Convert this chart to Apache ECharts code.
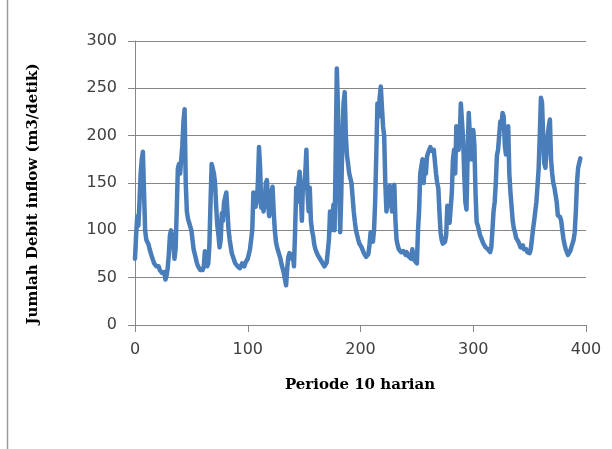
<!DOCTYPE html>
<html>
<head>
<meta charset="utf-8">
<script src="https://cdn.jsdelivr.net/npm/echarts@6/dist/echarts.min.js"></script>
<style>
html,body{margin:0;padding:0;background:#fff;}
#chart{width:612px;height:449px;}
</style>
</head>
<body>
<div id="chart"></div>
<script>
// Inflow values per 10-day period, grouped by year (36 periods each)
const year1  = [70,95,115,105,130,160,175,183,140,100,90,88,85,80,78,72,70,65,66,62,60,62,58,57,55,53,56,48,52,60,75,95,100,98,85,70];
const year2  = [80,120,165,170,160,175,190,215,228,150,120,112,108,110,100,90,80,75,70,65,62,60,58,60,58,62,78,75,62,65,85,130,170,172,160,150];
const year3  = [125,105,95,82,90,118,110,130,135,140,120,100,90,82,75,72,68,65,63,62,64,60,62,65,63,62,66,68,70,75,80,82,100,140,135,125];
const year4  = [130,150,188,165,124,130,120,128,150,153,130,115,125,140,146,120,100,88,82,78,74,70,64,62,55,48,42,60,72,76,74,70,75,62,100,145];
const year5  = [130,150,162,140,110,150,145,160,185,140,120,145,110,100,94,85,80,77,74,72,70,68,66,64,62,63,66,78,90,120,100,110,127,100,180,271];
const year6  = [230,150,98,140,200,235,246,200,179,170,160,155,150,135,120,109,100,95,90,86,84,82,80,76,74,72,70,75,85,98,92,88,100,130,180,234];
const year7  = [220,240,252,230,210,200,150,120,122,140,147,130,120,145,148,110,90,84,80,78,77,76,78,76,74,77,75,72,70,70,80,72,68,66,65,100];
const year8  = [122,160,168,175,150,170,160,178,182,185,188,184,186,185,183,160,150,145,120,98,90,86,84,88,95,126,115,108,110,140,175,185,160,210,190,185];
const year9  = [200,234,215,196,160,130,122,180,224,200,175,190,206,190,140,109,105,100,95,92,90,86,84,82,80,80,78,77,82,100,120,130,150,179,185,200];
const year10 = [215,210,224,220,190,180,205,210,160,140,125,110,102,98,92,90,88,85,82,80,84,80,78,80,77,78,76,80,90,101,110,120,130,147,165,200];
const year11 = [240,235,200,171,166,185,200,210,217,175,160,150,145,147,130,116,115,114,110,100,91,85,80,78,74,73,78,82,80,90,98,120,150,166,171,176];

const xTicks = [0, 100, 200, 300, 400];
const yTicks = [0, 50, 100, 150, 200, 250, 300];
const xTitle = 'Periode 10 harian';
const yTitle = 'Jumlah Debit inflow (m3/detik)';

const inflow = [].concat(year1, year2, year3, year4, year5, year6, year7, year8, year9, year10, year11);
const seriesData = inflow.map((v, i) => [i, v]);

const chart = echarts.init(document.getElementById('chart'), null, {renderer: 'canvas'});
const axisGray = '#868686';
const labelFont = {fontFamily: 'DejaVu Sans', fontSize: 16, color: '#404040'};

chart.setOption({
  animation: false,
  backgroundColor: '#ffffff',
  grid: {left: 135, right: 26, top: 41, bottom: 124, containLabel: false},
  xAxis: {
    type: 'value',
    min: xTicks[0], max: xTicks[xTicks.length - 1], interval: 100,
    axisLine: {show: true, lineStyle: {color: axisGray, width: 1}},
    axisTick: {show: true, length: 7, lineStyle: {color: axisGray}},
    splitLine: {show: false},
    axisLabel: Object.assign({margin: 17}, labelFont)
  },
  yAxis: {
    type: 'value',
    min: yTicks[0], max: yTicks[yTicks.length - 1], interval: 50,
    axisLine: {show: true, lineStyle: {color: axisGray, width: 1}},
    axisTick: {show: true, length: 7, lineStyle: {color: axisGray}},
    splitLine: {show: true, lineStyle: {color: axisGray, width: 1}},
    axisLabel: Object.assign({margin: 18}, labelFont)
  },
  series: [{
    type: 'line',
    data: seriesData,
    showSymbol: false,
    symbol: 'none',
    lineStyle: {color: '#4A7EBB', width: 4.5, join: 'round', cap: 'round'},
    z: 3
  }],
  graphic: [
    {type: 'line', shape: {x1: 7.5, y1: 0, x2: 7.5, y2: 449}, style: {stroke: '#9a9a9a', lineWidth: 1.5}, silent: true},
    {type: 'text', x: 360, y: 385, style: {text: xTitle, fontFamily: 'DejaVu Serif', fontWeight: 'bold', fontSize: 15, fill: '#000', textAlign: 'center', textVerticalAlign: 'middle'}},
    {type: 'text', x: 33, y: 194, rotation: Math.PI / 2, style: {text: yTitle, fontFamily: 'DejaVu Serif', fontWeight: 'bold', fontSize: 15, fill: '#000', textAlign: 'center', textVerticalAlign: 'middle'}}
  ]
});
</script>
</body>
</html>
